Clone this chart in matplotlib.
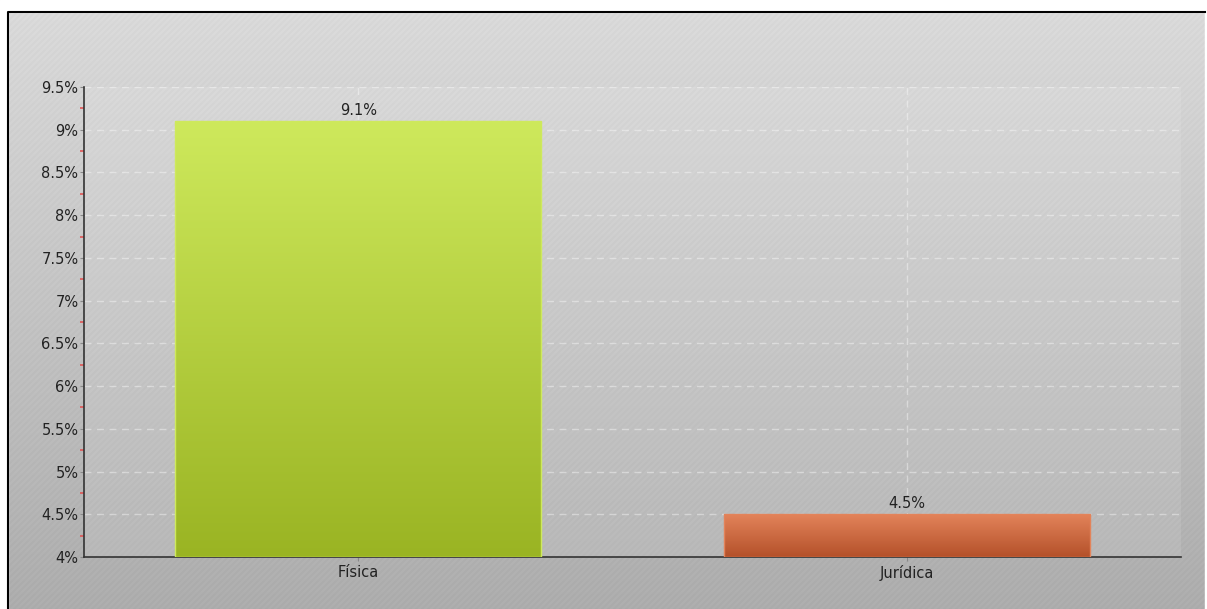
import numpy as np
import matplotlib
matplotlib.use("Agg")
import matplotlib.pyplot as plt
from matplotlib.colors import LinearSegmentedColormap
from matplotlib.patches import Rectangle

categories = ["Física", "Jurídica"]
values = [9.1, 4.5]
labels = ["9.1%", "4.5%"]
yticks = [4, 4.5, 5, 5.5, 6, 6.5, 7, 7.5, 8, 8.5, 9, 9.5]
ytick_labels = ["4%", "4.5%", "5%", "5.5%", "6%", "6.5%", "7%", "7.5%", "8%", "8.5%", "9%", "9.5%"]
bar_colors = [("#cee95c", "#9ab423"), ("#e3835a", "#b4512a")]

W, H = 1207, 609
fig = plt.figure(figsize=(W / 100, H / 100), dpi=100)
fig.patch.set_facecolor("white")

# background panel: vertical gradient with diagonal stripes, as one texture
bg = fig.add_axes([0, 0, 1, 1])
bg.axis("off")
yy, xx = np.mgrid[0:H, 0:W]
shade = 0.85 - 0.18 * yy / H
stripe = ((xx + yy) % 6 < 3) * 0.015
tex = np.clip(shade + stripe, 0, 1)
bg.imshow(np.dstack([tex, tex, tex]), extent=[0, W, H, 0], aspect="auto",
          interpolation="nearest", zorder=0)
bg.add_patch(Rectangle((0, 0), 8, H, color="white", zorder=1))
bg.add_patch(Rectangle((0, 0), W, 12, color="white", zorder=1))
bg.add_patch(Rectangle((W - 2, 0), 2, H, color="white", zorder=1))
bg.plot([8, 8, W - 2], [H + 5, 12, 12], color="black", lw=1.5, zorder=2)
bg.set_xlim(0, W)
bg.set_ylim(H, 0)

# plot area
ax = fig.add_axes([84 / W, 1 - 557 / H, (1181 - 84) / W, (557 - 87) / H])
ax.set_facecolor((1, 1, 1, 0.10))
x = np.arange(len(categories))
bars = ax.bar(x, values, width=0.667, color="none", zorder=3)
ax.set_xlim(-0.5, len(categories) - 0.5)
ax.set_ylim(4, 9.5)

for b, (top, bot) in zip(bars, bar_colors):
    bx, by = b.get_x(), 4
    cm = LinearSegmentedColormap.from_list("b", [bot, top])
    ax.imshow(np.linspace(0, 1, 256).reshape(-1, 1), cmap=cm, origin="lower",
              extent=[bx, bx + b.get_width(), by, b.get_height()],
              aspect="auto", zorder=3)
    ax.add_patch(Rectangle((bx, by), b.get_width(), b.get_height() - by, fill=False,
                           ec=top, lw=1, zorder=4))

for xi, v, lab in zip(x, values, labels):
    ax.text(xi, v + 0.04, lab, ha="center", va="bottom", fontsize=10.5, color="#222222", zorder=5)

ax.set_yticks(yticks)
ax.set_yticklabels(ytick_labels)
ax.set_yticks(np.arange(4.25, 9.5, 0.5), minor=True)
ax.set_xticks(x)
ax.set_xticklabels(categories)
ax.tick_params(axis="y", which="major", length=3, color="#888888", labelsize=10.5, labelcolor="#222222", pad=1)
ax.tick_params(axis="y", which="minor", length=3, width=1.2, color="#e05555")
ax.tick_params(axis="x", length=3, color="#888888", labelsize=10.5, labelcolor="#222222", pad=3)
ax.grid(True, which="major", color="white", alpha=0.4, linestyle=(0, (5, 4)), lw=1, zorder=1)
ax.set_axisbelow(True)
for s in ["top", "right"]:
    ax.spines[s].set_visible(False)
ax.spines["left"].set_color("#333333")
ax.spines["bottom"].set_color("#333333")
ax.spines["left"].set_linewidth(1.2)
ax.spines["bottom"].set_linewidth(1.2)

fig.savefig("out.png", dpi=100)
